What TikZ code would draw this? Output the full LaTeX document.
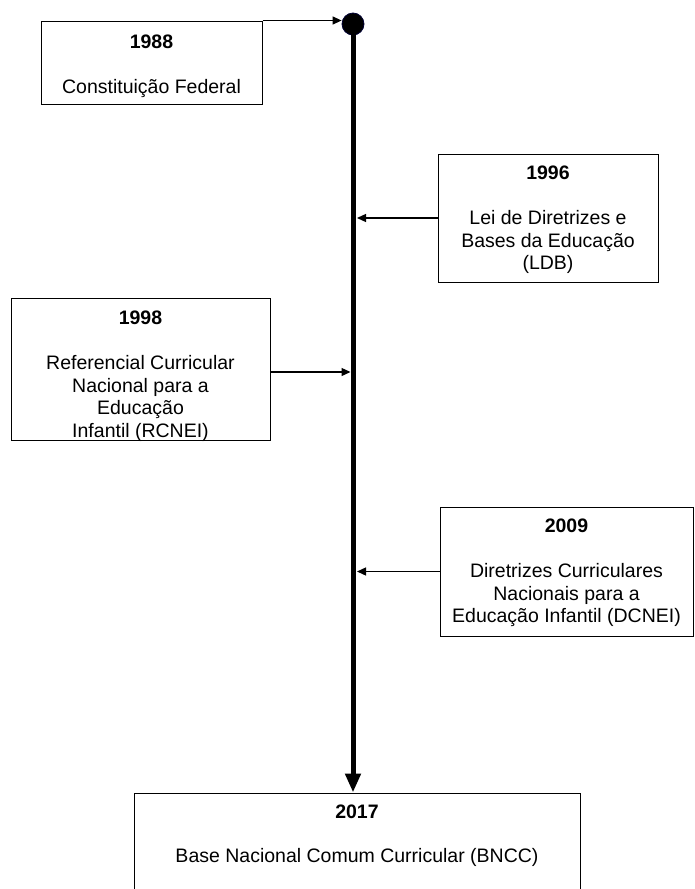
\documentclass[tikz,border=0pt]{standalone}
\usepackage{fontspec}
\setmainfont{Liberation Sans}
\usetikzlibrary{arrows.meta,calc}
\tikzset{
  evbox/.style={draw=black, line width=1pt, rectangle, inner sep=0pt},
  evtext/.style={anchor=north, align=center, inner sep=0pt, font=\fontsize{19.5}{22.6}\selectfont},
  link/.style={line width=1.3pt, -{Triangle[length=9pt,width=8pt]}},
  spine/.style={line width=5pt, -{Triangle[length=19pt,width=15pt]}},
}
\begin{document}
\begin{tikzpicture}[x=1pt,y=-1pt]
\useasboundingbox (0,0) rectangle (694,889);
% boxes
\node[evbox, minimum width=221, minimum height=83] (b1988) at (151.5,62.5) {};
\node[evbox, minimum width=220, minimum height=128] (b1996) at (548,218) {};
\node[evbox, minimum width=259, minimum height=142] (b1998) at (140.5,369) {};
\node[evbox, minimum width=253, minimum height=129] (b2009) at (566.5,571.5) {};
\node[evbox, minimum width=446, minimum height=110] (b2017) at (357,848) {};
% texts
\node[evtext] (t1988) at ($(b1988.north)+(0,14)$) {\textbf{1988}\\[22.6pt]Constituição Federal};
\node[evtext] (t1996) at ($(b1996.north)+(0,12)$) {\textbf{1996}\\[22.6pt]Lei de Diretrizes e\\Bases da Educação\\(LDB)};
\node[evtext] (t1998) at ($(b1998.north)+(0,13)$) {\textbf{1998}\\[22.6pt]Referencial Curricular\\Nacional para a\\Educação\\Infantil (RCNEI)};
\node[evtext] (t2009) at ($(b2009.north)+(0,12)$) {\textbf{2009}\\[22.6pt]Diretrizes Curriculares\\Nacionais para a\\Educação Infantil (DCNEI)};
\node[evtext] (t2017) at ($(b2017.north)+(0,12)$) {\textbf{2017}\\[22pt]Base Nacional Comum Curricular (BNCC)};
% timeline
\node[circle, fill=black, draw=black!80!blue, line width=0.8pt, minimum size=22pt, inner sep=0pt] (dot) at (353,24) {};
\draw[spine] (dot.center) -- (dot.center |- b2017.north);
% connectors
\draw[link] (b1988.north east) -- (b1988.north east -| dot.west);
\draw[link] (b1996.west) -- ($(b1996.west -| dot.center)+(4,0)$);
\draw[link] ($(b1998.east)+(0,3)$) -- ($(b1998.east -| dot.center)+(-2.5,3)$);
\draw[link] (b2009.west) -- ($(b2009.west -| dot.center)+(4,0)$);
\end{tikzpicture}
\end{document}
